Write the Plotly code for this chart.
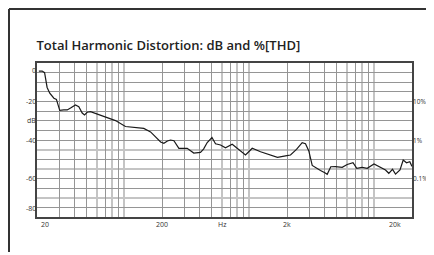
import math
import plotly.graph_objects as go

# ---- data ----
freq_hz = [20.7, 22.0, 23.0, 24.1, 25.3, 26.5, 27.3, 28.6, 30.4, 32.8, 34.9, 37.1, 39.2, 40.6,
           43.2, 46.0, 48.0, 50.4, 53.6, 60.6, 72.9, 84.9, 102, 119, 143, 162, 172, 195, 207,
           221, 234, 249, 273, 318, 359, 406, 430, 460, 502, 536, 588, 644, 729, 799, 876,
           931, 989, 1054, 1228, 1431, 1679, 1945, 2133, 2382, 2646, 2812, 2989, 3182, 3444,
           3707, 4014, 4195, 4480, 4887, 5528, 6061, 6745, 7233, 7992, 8764, 9931, 11196,
           12277, 13046, 13964, 14760, 16034, 17008, 18072, 19206, 20000]
thd_db = [-4.2, -4.2, -5.0, -12.7, -15.7, -17.5, -18.3, -18.9, -24.6, -24.4, -24.4, -23.4,
          -22.3, -21.8, -22.7, -26.0, -27.0, -25.6, -25.3, -26.6, -28.3, -29.9, -33.0, -33.5,
          -34.0, -35.8, -37.4, -41.0, -41.7, -40.5, -40.0, -40.4, -44.3, -44.3, -46.8, -46.4,
          -44.7, -41.3, -38.7, -42.0, -42.6, -44.0, -42.2, -44.3, -46.6, -47.8, -46.1, -44.3,
          -46.1, -47.4, -49.0, -48.2, -47.8, -44.9, -41.4, -41.9, -45.7, -53.2, -54.7, -55.8,
          -57.0, -57.8, -53.9, -53.8, -54.2, -52.7, -51.8, -54.7, -54.2, -54.7, -52.5, -54.3,
          -55.6, -57.3, -55.2, -57.7, -55.5, -50.4, -51.8, -51.3, -53.7]

x_grid_dark = [30, 40, 50, 70, 90, 200, 300, 400, 500, 700, 900, 2000, 3000, 4000, 5000, 7000, 9000]
x_grid_light = [60, 80, 100, 600, 800, 1000, 6000, 8000, 10000]
y_grid_dark = [-5, -10, -15, -20, -25, -30, -35, -40, -50, -60, -65, -75]
y_grid_light = [-45, -55, -70]

x_tick_vals = [20, 200, 600, 2000, 20000]
x_tick_text = ["20", "200", "Hz", "2k", "20k"]
y_tick_vals = [-4, -20, -30, -40, -60, -75.5]
y_tick_text = ["0", "-20", "dB", "-40", "-60", "-80"]
pct_tick_vals = [-20, -40, -60]
pct_tick_text = ["10%", "1%", "0.1%"]

title_text = "Total Harmonic Distortion: dB and %[THD]"

FONT = "Open Sans"
LABEL_COLOR = "#333333"
fig = go.Figure()
fig.add_trace(go.Scatter(x=freq_hz, y=thd_db, mode="lines",
                         line=dict(color="#1a1a1a", width=1.2), hoverinfo="skip"))

W, H = 434, 255
ML, MR, MT, MB = 29, 30, 55, 46
fig.update_layout(
    width=W, height=H,
    margin=dict(l=ML, r=MR, t=MT, b=MB, autoexpand=False),
    paper_bgcolor="white", plot_bgcolor="white",
    showlegend=False,
    font=dict(family=FONT, color=LABEL_COLOR, size=8),
    title=dict(text=title_text, x=28.5 / W, xanchor="left", y=1 - 37.7 / H, yanchor="middle",
               font=dict(family=FONT, size=13, color="#222222", weight=600)),
)

fig.update_xaxes(type="log", range=[math.log10(20), math.log10(20000)],
                 tickvals=x_grid_dark, showticklabels=False, ticks="",
                 showgrid=True, gridcolor="#959595", gridwidth=1,
                 minor=dict(tickvals=x_grid_light, showgrid=True, gridcolor="#c4c4c4", gridwidth=1.5, ticks=""),
                 showline=True, linecolor="#444444", linewidth=1.5, mirror=True, zeroline=False)
fig.update_yaxes(range=[-80, 0],
                 tickvals=y_grid_dark, showticklabels=False, ticks="",
                 showgrid=True, gridcolor="#959595", gridwidth=1,
                 minor=dict(tickvals=y_grid_light, showgrid=True, gridcolor="#c4c4c4", gridwidth=1.5, ticks=""),
                 showline=True, linecolor="#444444", linewidth=1.5, mirror=True, zeroline=False)

lab_font = dict(family=FONT, size=7, color=LABEL_COLOR)
pct_font = dict(family=FONT, size=6.5, color=LABEL_COLOR)
# x tick labels
for v, t in zip(x_tick_vals, x_tick_text):
    anchor, shift = "center", 0
    if v == 20:
        anchor, shift = "left", 2
    elif v == 20000:
        anchor, shift = "right", -9
    fig.add_annotation(x=math.log10(v), y=0, xref="x", yref="paper", text=t, showarrow=False,
                       xanchor=anchor, yanchor="top", xshift=shift, yshift=-1, font=lab_font)
# left y tick labels
for v, t in zip(y_tick_vals, y_tick_text):
    fig.add_annotation(x=0, y=v, xref="paper", yref="y", text=t, showarrow=False,
                       xanchor="right", yanchor="middle", xshift=1, font=lab_font)
# right percent labels
for v, t in zip(pct_tick_vals, pct_tick_text):
    fig.add_annotation(x=1, y=v, xref="paper", yref="y", text=t, showarrow=False,
                       xanchor="left", yanchor="middle", xshift=-1, font=pct_font)

# outer frame (left and top edges)
pw, ph = W - ML - MR, H - MT - MB
fx = (1 - ML) / pw
fy = 1 + (MT - 1) / ph
fig.add_shape(type="line", xref="paper", yref="paper", x0=fx, x1=fx, y0=fy, y1=(ph - (244 - MT)) / ph,
              line=dict(color="#333333", width=2))
fig.add_shape(type="line", xref="paper", yref="paper", x0=fx, x1=1.3, y0=fy, y1=fy,
              line=dict(color="#333333", width=2))

fig.write_html("out.html")
